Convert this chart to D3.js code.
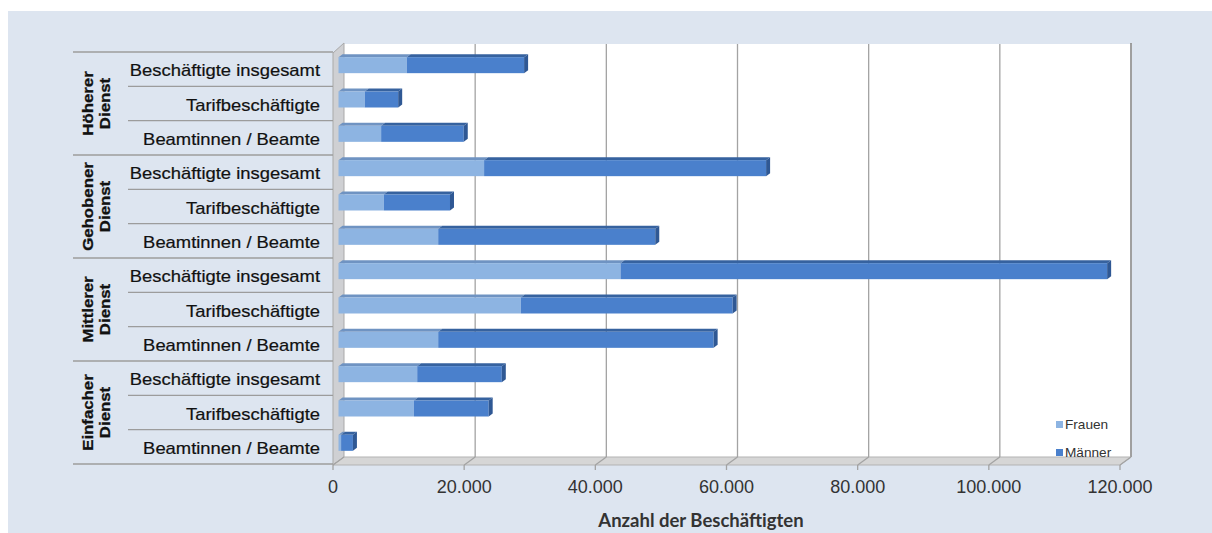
<!DOCTYPE html>
<html><head><meta charset="utf-8">
<script src="https://cdn.jsdelivr.net/npm/d3@7"></script>
<style>body{margin:0;background:#fff}svg{display:block}</style>
</head><body><svg id="chart" width="1212" height="533"></svg>
<script>
// Beschäftigte nach Laufbahngruppe und Statusgruppe, getrennt nach Geschlecht
const groups = ["Höherer Dienst", "Gehobener Dienst", "Mittlerer Dienst", "Einfacher Dienst"];
const rowLabels = ["Beschäftigte insgesamt", "Tarifbeschäftigte", "Beamtinnen / Beamte"];
const frauen  = [10400, 4000, 6500, 22200, 6900, 15200, 43000, 27800, 15200, 12000, 11500, 400];
const maenner = [17900, 5100, 12600, 43000, 10100, 33100, 74200, 32300, 42000, 12900, 11400, 1800];
const xTicks = [0, 20000, 40000, 60000, 80000, 100000, 120000];
const seriesNames = ["Frauen", "Männer"];
const axisTitle = "Anzahl der Beschäftigten";

const svg = d3.select("#chart");
const de = d3.formatLocale({decimal: ",", thousands: ".", grouping: [3], currency: ["", " €"]});
const fmt = de.format(",d");

// page background
svg.append("rect").attr("x", 8).attr("y", 11).attr("width", 1204).attr("height", 522).attr("fill", "#dde5f0");

// front plane geometry and 3D depth offset
const X0 = 333, X1 = 1120, Ytop = 52, Ybot = 465;
const DX = 11, DY = -8;
const x = d3.scaleLinear().domain([0, 120000]).range([X0, X1]);

const rows = [];
groups.forEach((g, gi) => rowLabels.forEach((r, ri) => rows.push({g, gi, r, i: gi * 3 + ri})));
const y = d3.scaleBand().domain(rows.map(d => d.i)).range([Ytop, 464]);

// back wall
svg.append("rect").attr("x", X0 + DX).attr("y", Ytop + DY).attr("width", x(120000) - X0)
  .attr("height", Ybot - Ytop).attr("fill", "#ffffff");
// right edge of the back wall
svg.append("line").attr("x1", x(120000) + DX).attr("x2", x(120000) + DX)
  .attr("y1", Ytop + DY - 1).attr("y2", Ybot + DY).attr("stroke", "#9a9a9a").attr("stroke-width", 2);

// side wall
svg.append("path")
  .attr("d", `M${X0},${Ytop + 1}L${X0 + DX},${Ytop + DY - 1}L${X0 + DX},${Ybot + DY}L${X0},${Ybot}Z`)
  .attr("fill", "#cfd0d3").attr("stroke", "#a9a9a9").attr("stroke-width", 1);

// floor
svg.append("path")
  .attr("d", `M${X0 + DX},${Ybot + DY}L${x(120000) + DX},${Ybot + DY}L${x(120000)},${Ybot}L${X0},${Ybot}Z`)
  .attr("fill", "#d6d6d6").attr("stroke", "#b3b3b3").attr("stroke-width", 1);

// gridlines on the wall and across the floor
const grid = svg.append("g").attr("stroke", "#a3a3a3").attr("stroke-width", 1.3).attr("fill", "none");
xTicks.forEach(t => {
  if (t > 0) grid.append("line").attr("x1", x(t) + DX).attr("x2", x(t) + DX)
    .attr("y1", Ytop + DY).attr("y2", Ybot + DY);
  grid.append("line").attr("x1", x(t) + DX).attr("x2", x(t))
    .attr("y1", Ybot + DY).attr("y2", Ybot);
  grid.append("line").attr("x1", x(t)).attr("x2", x(t))
    .attr("y1", Ybot).attr("y2", Ybot + 5);
});

// x axis tick labels
svg.append("g").selectAll("text").data(xTicks).join("text")
  .attr("x", d => x(d)).attr("y", 493)
  .attr("text-anchor", "middle")
  .attr("font-family", "Liberation Sans, Arial, sans-serif").attr("font-size", 18)
  .attr("fill", "#333").text(d => fmt(d));

// axis title
svg.append("text").attr("x", 701).attr("y", 527).attr("text-anchor", "middle")
  .attr("font-family", "Lato, sans-serif").attr("font-weight", "bold").attr("font-size", 18.5)
  .attr("fill", "#333").text(axisTitle);

// category table: separators, row labels and group labels
const table = svg.append("g");
rows.forEach(d => {
  const top = y(d.i);
  const isGroupStart = d.i % 3 === 0;
  table.append("line").attr("x1", isGroupStart ? 73 : 128).attr("x2", X0)
    .attr("y1", top).attr("y2", top).attr("stroke", "#9c9c9c").attr("stroke-width", 1.3);
  table.append("text")
    .attr("transform", `translate(320,${top + y.bandwidth() / 2 + 7}) scale(1.15,1)`)
    .attr("text-anchor", "end")
    .attr("font-family", "Liberation Sans, Arial, sans-serif").attr("font-size", 16)
    .attr("fill", "#111").attr("stroke", "#111").attr("stroke-width", 0.2)
    .text(d.r);
});
table.append("line").attr("x1", 73).attr("x2", X0).attr("y1", 464).attr("y2", 464)
  .attr("stroke", "#9c9c9c").attr("stroke-width", 1.3);

groups.forEach((g, gi) => {
  const cy = (y(gi * 3) + y(gi * 3 + 2) + y.bandwidth()) / 2;
  const words = g.split(" ");
  const t = table.append("text")
    .attr("transform", `translate(0,${cy}) rotate(-90) scale(1.12,1)`)
    .attr("text-anchor", "middle")
    .attr("font-family", "Liberation Sans, Arial, sans-serif").attr("font-weight", "bold")
    .attr("font-size", 15).attr("fill", "#111").attr("stroke", "#111").attr("stroke-width", 0.3);
  t.append("tspan").attr("x", 0).attr("y", 93).text(words[0]);
  t.append("tspan").attr("x", 0).attr("y", 110).text(words[1]);
});

// stacked 3D bars
const colors = {
  front: ["#8db4e2", "#4a80cc"],
  top:   ["#6f93c2", "#36629f"],
  end:   ["#6f93c2", "#2f5894"]
};
const BH = 16, BDX = 4, BDY = -3;
const bars = svg.append("g");
rows.forEach(d => {
  const cy = y(d.i) + y.bandwidth() / 2 + DY / 2;
  const y0 = cy - BH / 2, y1 = cy + BH / 2;
  const segs = [[0, frauen[d.i]], [frauen[d.i], frauen[d.i] + maenner[d.i]]];
  segs.forEach((s, si) => {
    const a = x(s[0]) + DX / 2, b = x(s[1]) + DX / 2;
    bars.append("path")
      .attr("d", `M${a},${y0}L${b},${y0}L${b + BDX},${y0 + BDY}L${a + BDX},${y0 + BDY}Z`)
      .attr("fill", colors.top[si]);
    bars.append("rect").attr("x", a).attr("y", y0).attr("width", b - a).attr("height", BH)
      .attr("fill", colors.front[si]);
  });
  const e = x(segs[1][1]) + DX / 2;
  bars.append("path")
    .attr("d", `M${e},${y0}L${e + BDX},${y0 + BDY}L${e + BDX},${y1 + BDY}L${e},${y1}Z`)
    .attr("fill", colors.end[1]);
});

// legend
const legend = svg.append("g");
seriesNames.forEach((n, i) => {
  const ly = 424 + i * 28;
  legend.append("rect").attr("x", 1056).attr("y", ly - 3).attr("width", 7).attr("height", 7)
    .attr("fill", colors.front[i]);
  legend.append("text").attr("transform", `translate(1065,${ly + 5}) scale(1.05,1)`)
    .attr("font-family", "Liberation Sans, Arial, sans-serif").attr("font-size", 13)
    .attr("fill", "#333").text(n);
});
</script>
</body></html>
